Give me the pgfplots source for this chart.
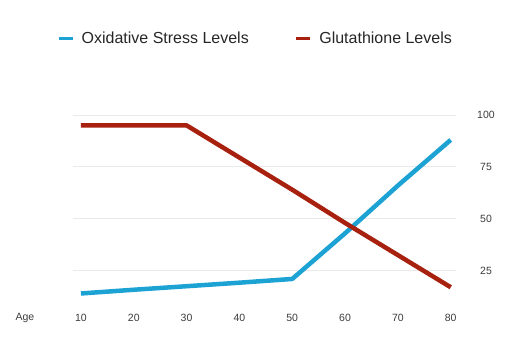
\documentclass[border=0pt]{standalone}
\usepackage{fontspec}
\setmainfont{Liberation Sans}
\usepackage{pgfplots}
\pgfplotsset{compat=1.18}
\definecolor{oxblue}{RGB}{28,163,212}
\definecolor{glured}{RGB}{168,32,14}
\definecolor{gridgray}{RGB}{234,234,234}
\definecolor{txtgray}{RGB}{60,60,60}
\begin{document}
\begin{tikzpicture}
\useasboundingbox (-73pt,-52pt) rectangle (448pt,308pt);
\begin{axis}[
  at={(0,0)}, anchor=south west,
  scale only axis,
  width=383pt, height=193pt,
  xmin=8.5, xmax=81, ymin=7, ymax=100,
  axis line style={draw=none},
  xtick={10,20,30,40,50,60,70,80},
  ytick={25,50,75,100},
  tick style={draw=none},
  ymajorgrids,
  grid style={gridgray, line width=1pt},
  yticklabel pos=right,
  yticklabel style={anchor=center, xshift=30pt, font=\fontsize{10.5}{12}\selectfont, text=txtgray},
  xticklabel style={anchor=center, yshift=-10pt, font=\fontsize{10.5}{12}\selectfont, text=txtgray},
  /pgf/number format/assume math mode=true,
  legend columns=2,
  legend style={at={(axis description cs:0.5,1)}, anchor=center, yshift=77pt, xshift=-9pt,
    draw=none, fill=none, font=\fontsize{16}{19}\selectfont, text=black!85,
    /tikz/every even column/.append style={column sep=44pt}},
  legend image code/.code={\path[draw=none] (0pt,0pt) -- (21pt,0pt); \draw[line width=3pt] (0pt,0pt) -- (14pt,0pt);},
  clip=false,
]
\addplot[oxblue, line width=4.5pt, line join=round] coordinates {
  (10,14) (20,15.8) (30,17.5) (40,19.2) (50,21) (60,43) (70,66) (80,88)
};
\addlegendentry{Oxidative Stress Levels}
\addplot[glured, line width=4.5pt, line join=round] coordinates {
  (10,95) (20,95) (30,95) (40,79.5) (50,64) (60,48) (70,32.5) (80,17)
};
\addlegendentry{Glutathione Levels}
\node[font=\fontsize{10.5}{12}\selectfont, text=txtgray] at (rel axis cs:0,0) [xshift=-48pt, yshift=-10pt] {Age};
\end{axis}
\end{tikzpicture}
\end{document}
